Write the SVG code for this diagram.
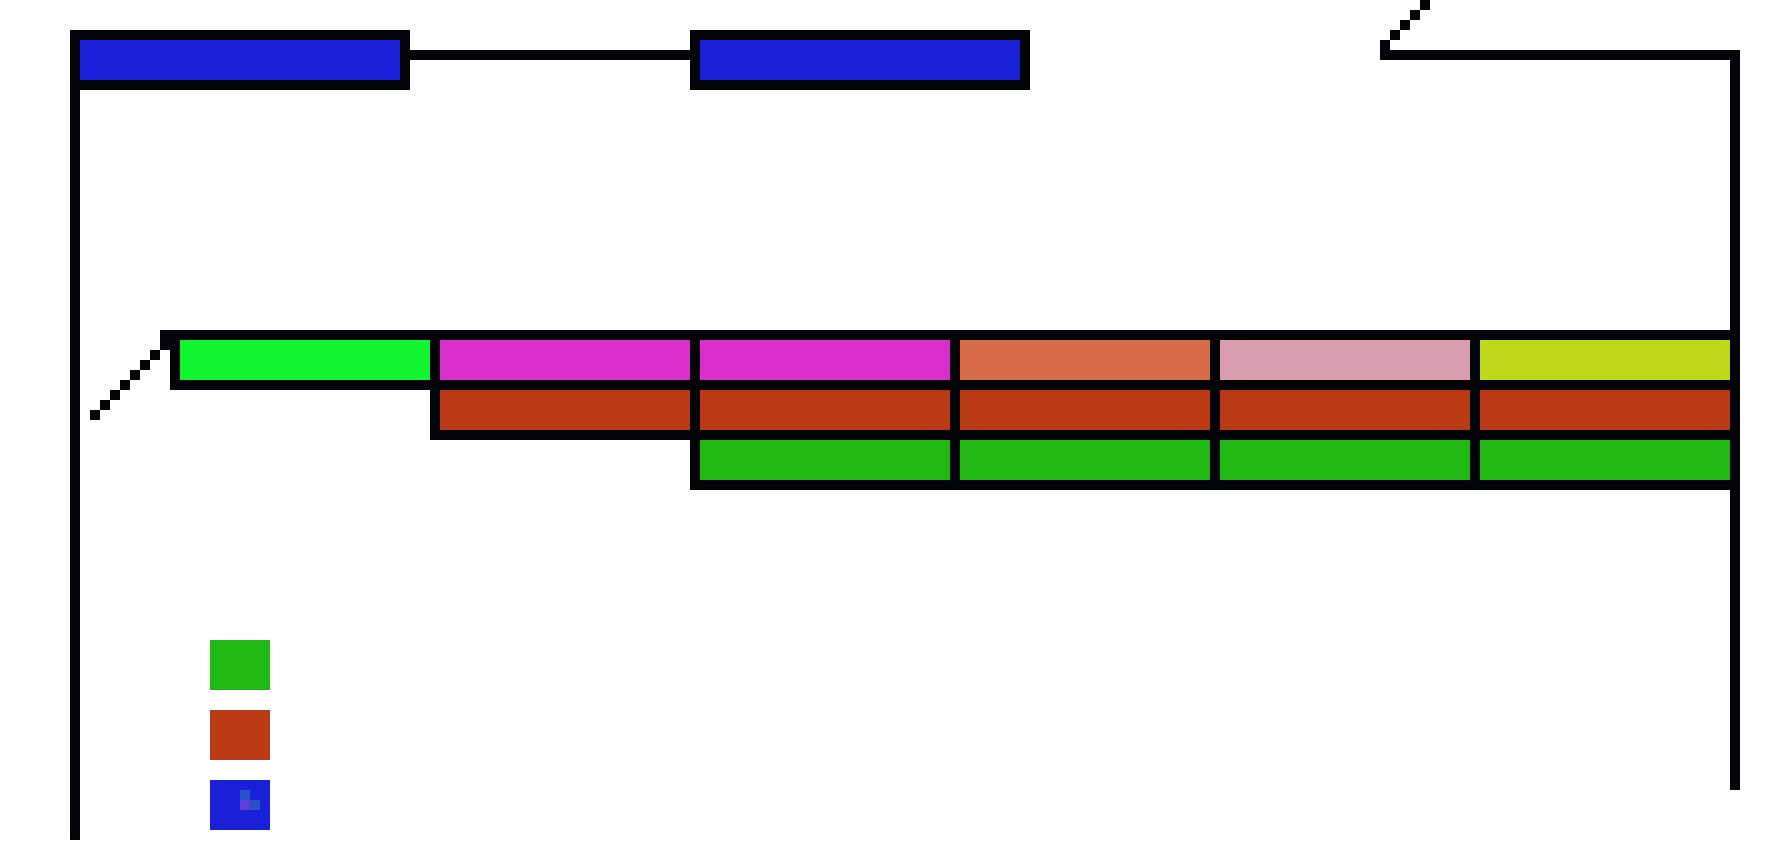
<svg xmlns="http://www.w3.org/2000/svg" width="1790" height="850" viewBox="0 0 1790 850" shape-rendering="crispEdges">
<style>
.n{stroke:#020408;stroke-width:10}
.c{fill:none;stroke:#020408;stroke-width:10;stroke-linecap:butt;stroke-linejoin:miter}
.d{fill:#020408}
.blue{fill:#1a1fd8}
.lg{fill:#14f532}
.mg{fill:#d82ecb}
.or{fill:#d96c48}
.pk{fill:#d89daf}
.yl{fill:#bed81a}
.rd{fill:#bb3a16}
.gr{fill:#22b814}
</style>
<rect width="1790" height="850" fill="#ffffff"/>
<g id="connectors">
<path class="c" d="M75,90 V840"/>
<path class="c" d="M410,55 H690"/>
<path class="c" d="M1385,40 V55 H1735 V790"/>
<rect class="d" x="1390" y="30" width="10" height="10"/>
<rect class="d" x="1400" y="20" width="10" height="10"/>
<rect class="d" x="1410" y="10" width="10" height="10"/>
<rect class="d" x="1420" y="0" width="10" height="10"/>
<rect class="d" x="160" y="330" width="10" height="20"/>
<rect class="d" x="150" y="350" width="10" height="10"/>
<rect class="d" x="140" y="360" width="10" height="10"/>
<rect class="d" x="130" y="370" width="10" height="10"/>
<rect class="d" x="120" y="380" width="10" height="10"/>
<rect class="d" x="110" y="390" width="10" height="10"/>
<rect class="d" x="100" y="400" width="10" height="10"/>
<rect class="d" x="90" y="410" width="10" height="10"/>
</g>
<g id="box-top-1"><rect class="n blue" x="75" y="35" width="330" height="50"/></g>
<g id="box-top-2"><rect class="n blue" x="695" y="35" width="330" height="50"/></g>
<g id="row1">
<g id="r1c1"><rect class="n lg" x="175" y="335" width="260" height="50"/></g>
<g id="r1c2"><rect class="n mg" x="435" y="335" width="260" height="50"/></g>
<g id="r1c3"><rect class="n mg" x="695" y="335" width="260" height="50"/></g>
<g id="r1c4"><rect class="n or" x="955" y="335" width="260" height="50"/></g>
<g id="r1c5"><rect class="n pk" x="1215" y="335" width="260" height="50"/></g>
<g id="r1c6"><rect class="n yl" x="1475" y="335" width="260" height="50"/></g>
</g>
<g id="row2">
<g id="r2c2"><rect class="n rd" x="435" y="385" width="260" height="50"/></g>
<g id="r2c3"><rect class="n rd" x="695" y="385" width="260" height="50"/></g>
<g id="r2c4"><rect class="n rd" x="955" y="385" width="260" height="50"/></g>
<g id="r2c5"><rect class="n rd" x="1215" y="385" width="260" height="50"/></g>
<g id="r2c6"><rect class="n rd" x="1475" y="385" width="260" height="50"/></g>
</g>
<g id="row3">
<g id="r3c3"><rect class="n gr" x="695" y="435" width="260" height="50"/></g>
<g id="r3c4"><rect class="n gr" x="955" y="435" width="260" height="50"/></g>
<g id="r3c5"><rect class="n gr" x="1215" y="435" width="260" height="50"/></g>
<g id="r3c6"><rect class="n gr" x="1475" y="435" width="260" height="50"/></g>
</g>
<g id="legend-green"><rect class="gr" x="210" y="640" width="60" height="50"/></g>
<g id="legend-red"><rect class="rd" x="210" y="710" width="60" height="50"/></g>
<g id="legend-blue">
<rect class="blue" x="210" y="780" width="60" height="50"/>
<rect x="240" y="790" width="10" height="10" fill="#2a50c8"/>
<rect x="240" y="800" width="10" height="10" fill="#5a40d8"/>
<rect x="250" y="800" width="10" height="10" fill="#2a50c8"/>
</g>
</svg>
